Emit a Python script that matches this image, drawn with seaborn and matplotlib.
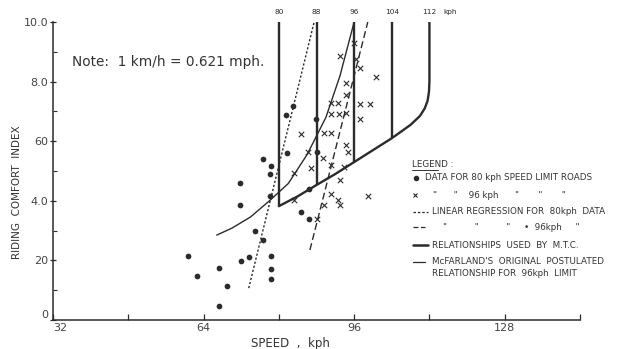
import numpy as np
import pandas as pd
import seaborn as sns
import matplotlib.pyplot as plt
from matplotlib.lines import Line2D

# data for 80 kph speed limit roads (dots)
spd80 = [60.7, 62.5, 67.3, 67.3, 68.9, 71.7, 71.7, 72.0, 73.7, 74.9, 76.7, 76.7, 78.3,
         78.1, 78.1, 78.3, 78.3, 78.4, 81.7, 81.6, 83.1, 87.9, 84.7, 86.3, 86.3, 88.1]
rci80 = [21.6, 14.9, 17.6, 4.7, 11.5, 46.1, 38.6, 19.9, 21.2, 30.0, 26.8, 54.0, 51.7,
         49.0, 41.6, 21.6, 17.0, 13.8, 55.9, 68.8, 71.8, 67.3, 36.2, 33.9, 43.9, 56.5]

# data for 96 kph speed limit roads (crosses)
spd96 = [92.9, 96.0, 96.4, 97.3, 100.7, 94.3, 94.3, 91.1, 92.5, 97.3, 99.3, 91.1, 92.7,
         94.3, 97.3, 84.8, 89.7, 91.1, 86.1, 94.3, 94.7, 89.3, 91.1, 93.9, 83.3, 86.8,
         92.9, 91.1, 83.3, 92.5, 89.7, 92.9, 98.9, 88.1]
rci96 = [88.7, 93.0, 87.6, 84.5, 81.4, 79.4, 75.5, 72.7, 72.7, 72.5, 72.5, 69.1, 69.1,
         69.4, 67.3, 62.3, 62.7, 62.7, 56.5, 58.7, 56.5, 54.3, 52.0, 51.4, 49.2, 51.0,
         47.0, 42.3, 40.3, 40.3, 38.6, 38.6, 41.6, 33.9]

# linear regressions
reg80_spd = [73.6, 87.5]
reg80_rci = [10.7, 100]
reg96_spd = [86.6, 98.9]
reg96_rci = [23.5, 100]

# relationships used by M.T.C.
mtc_spd = [80, 84, 88, 92, 96, 100, 104, 108, 110, 111, 111.6, 111.9, 112, 112]
mtc_rci = [38.2, 41.5, 45.3, 49, 53, 57, 61, 65.5, 68.5, 71, 73.5, 76.5, 80, 100]
limits = [80, 88, 96, 104]
limit_base = [38.2, 45.3, 53, 61]
limit_labels = ['80', '88', '96', '104', '112']

# McFarland's original postulated relationship
mcf_spd = [66.8, 70, 74, 78, 82, 86, 90, 93, 96]
mcf_rci = [28.5, 30.8, 34.6, 40.0, 45.8, 55.5, 68, 82, 100]

xticks = [32, 48, 64, 80, 96, 112, 128, 144]
xlabels = ['32', '', '64', '', '96', '', '128', '']
yticks = [0, 20, 40, 60, 80, 100]
ylabels = ['0', '20', '4.0', '60', '8.0', '10.0']

ink = '#2b2b2b'
sns.set_style("ticks")
plt.rcParams['font.family'] = ['DejaVu Sans']

fig = plt.figure(figsize=(6.25, 3.49), dpi=100)
ax = fig.add_axes([53/625, 29/349, 527/625, 298/349])

sns.scatterplot(x=spd80, y=rci80, ax=ax, marker='o', s=17, color=ink, edgecolor=ink, linewidth=0)
sns.scatterplot(x=spd96, y=rci96, ax=ax, marker='x', s=15, color=ink, linewidth=0.8)

sns.lineplot(x=reg80_spd, y=reg80_rci, ax=ax, color=ink, lw=1.0, linestyle=(0, (1.6, 1.4)))
sns.lineplot(x=reg96_spd, y=reg96_rci, ax=ax, color=ink, lw=1.0, linestyle=(0, (5, 2.5)))
sns.lineplot(x=mcf_spd, y=mcf_rci, ax=ax, color=ink, lw=1.0, sort=False, estimator=None)
sns.lineplot(x=mtc_spd, y=mtc_rci, ax=ax, color=ink, lw=1.7, sort=False, estimator=None)
ax.vlines(limits, limit_base, 100, color=ink, lw=1.7)

for sp, lab in zip(limits + [112], limit_labels):
    ax.text(sp, 103.4, lab, ha='center', va='center', fontsize=5.3, color=ink, clip_on=False)
ax.text(115, 103.4, 'kph', ha='left', va='center', fontsize=5.3, color=ink, clip_on=False)

ax.set_xlim(32, 144)
ax.set_ylim(0, 100)
ax.set_xticks(xticks)
ax.set_xticklabels(xlabels, fontsize=8, color='#444444')
ax.get_xticklabels()[0].set_ha('left')
ax.set_yticks(yticks)
ax.set_yticklabels(ylabels, fontsize=8, color='#444444')
ax.get_yticklabels()[0].set_va('bottom')
ax.set_yticks([10, 30, 50, 70, 90], minor=True)
ax.tick_params(axis='x', direction='in', length=4, width=0.9, color=ink, pad=2)
ax.tick_params(axis='y', which='major', direction='inout', length=5, width=0.9, color=ink, pad=1)
ax.tick_params(axis='y', which='minor', direction='in', length=3, width=0.8, color=ink)
sns.despine(ax=ax)
for s in ['left', 'bottom']:
    ax.spines[s].set_color(ink)
    ax.spines[s].set_linewidth(1.1)

ax.set_xlabel('SPEED  ,  kph', fontsize=8.5, color='#333333')
ax.xaxis.set_label_coords(0.45, -0.058)
ax.set_ylabel('RIDING  COMFORT  INDEX', fontsize=7.5, color='#333333')
ax.yaxis.set_label_coords(-0.059, 0.43)

fig.text(72/625, 1 - 62/349, 'Note:  1 km/h = 0.621 mph.', fontsize=9.8, color='#333333',
         ha='left', va='center')


def fy(py):
    return 1 - py / 349


def fx(px):
    return px / 625


leg_fs = 6.3
fig.text(fx(412), fy(165), 'LEGEND :', fontsize=leg_fs, color='#333333', va='center')
fig.add_artist(Line2D([fx(412), fx(438)], [fy(169.5), fy(169.5)], color='#333333', lw=0.7))

rows = [
    (425, 178, 'DATA FOR 80 kph SPEED LIMIT ROADS'),
    (433, 195, '"      "    96 kph      "       "       "'),
    (432, 212, 'LINEAR REGRESSION FOR  80kph  DATA'),
    (432, 228, '    "          "          "     •  96kph     "'),
    (432, 245, 'RELATIONSHIPS  USED  BY  M.T.C.'),
    (432, 262, 'McFARLAND\'S  ORIGINAL  POSTULATED'),
    (432, 274, 'RELATIONSHIP FOR  96kph  LIMIT'),
]
for x0, py, txt in rows:
    fig.text(fx(x0), fy(py), txt, fontsize=leg_fs, color='#333333', va='center')

fig.add_artist(Line2D([fx(416)], [fy(178)], marker='o', ms=3, color=ink, lw=0))
fig.add_artist(Line2D([fx(415)], [fy(195)], marker='x', ms=3.5, mew=0.8, color=ink, lw=0))
fig.add_artist(Line2D([fx(413), fx(428)], [fy(212), fy(212)], color=ink, lw=0.9,
                      linestyle=(0, (2, 1.5))))
fig.add_artist(Line2D([fx(413), fx(425)], [fy(227), fy(227)], color=ink, lw=0.9,
                      linestyle=(0, (4, 2))))
fig.add_artist(Line2D([fx(413), fx(428)], [fy(245), fy(245)], color=ink, lw=1.8))
fig.add_artist(Line2D([fx(413), fx(425)], [fy(262), fy(262)], color=ink, lw=0.9))

fig.savefig('out.png', dpi=100)
